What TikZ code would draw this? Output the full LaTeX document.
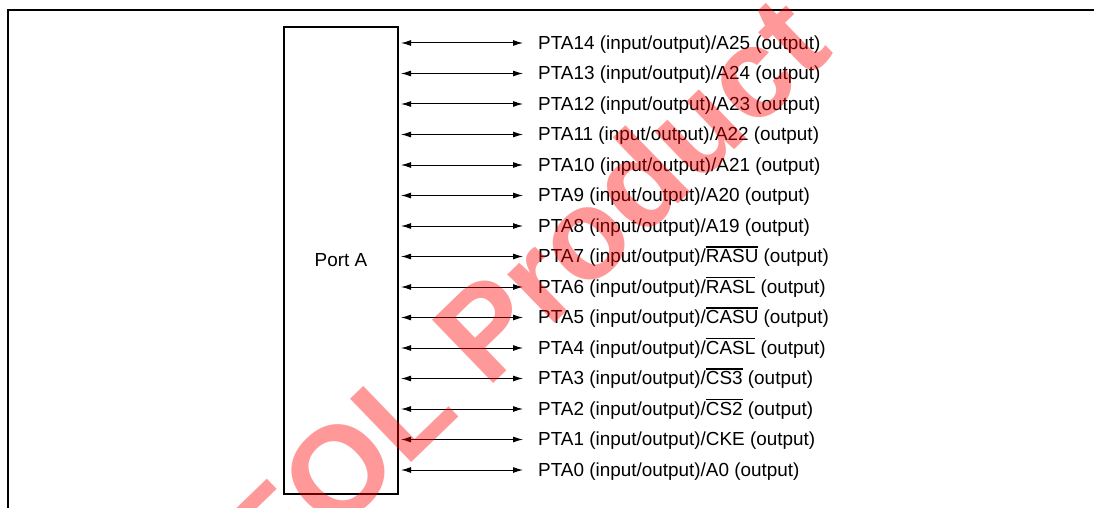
\documentclass[tikz,border=0pt]{standalone}
\usepackage{fontspec}
\setmainfont{Liberation Sans}
\usetikzlibrary{arrows.meta}
\newcommand\barred[1]{\leavevmode\vbox{\hrule height 1.2pt\kern 2.2pt\hbox{#1}}}
\tikzset{
  frameline/.style={line width=2.4pt},
  portbox/.style={draw, line width=2pt, minimum width=114pt, minimum height=467pt, inner sep=0pt, font=\fontsize{18.9}{20}\selectfont},
  pinlabel/.style={anchor=west, inner sep=0pt, text height=12.8pt, text depth=0pt, font=\fontsize{18.9}{20}\selectfont},
  io/.style={line width=1pt, {Latex[length=10pt,width=6pt]}-{Latex[length=10pt,width=6pt]}},
  watermark/.style={text=red, opacity=0.4, font=\fontsize{128}{128}\selectfont\bfseries, inner sep=0pt}
}
\begin{document}
\begin{tikzpicture}[x=1pt,y=-1pt]
\useasboundingbox (0,0) rectangle (1094,508);
\clip (0,0) rectangle (1094,508);
\draw[frameline] (8,509) -- (8,10) -- (1095,10);
\node[portbox] (port) at (341,260.5) {Port A};
\foreach \n/\s in {14/A25,13/A24,12/A23,11/A22,10/A21,9/A20,8/A19,7/\barred{RASU},6/\barred{RASL},5/\barred{CASU},4/\barred{CASL},3/\barred{CS3},2/\barred{CS2},1/CKE,0/A0}{
  \pgfmathsetmacro\yy{43+(14-\n)*30.5}
  \node[pinlabel] (l\n) at (538,\yy) {PTA\n\ (input/output)/\s\ (output)};
  \draw[io] ([xshift=2pt]port.east |- l\n.west) -- ([xshift=-15pt]l\n.west);
}
\node[watermark, rotate=44] (wm) at (522,292) {EOL Product};
\end{tikzpicture}
\end{document}
